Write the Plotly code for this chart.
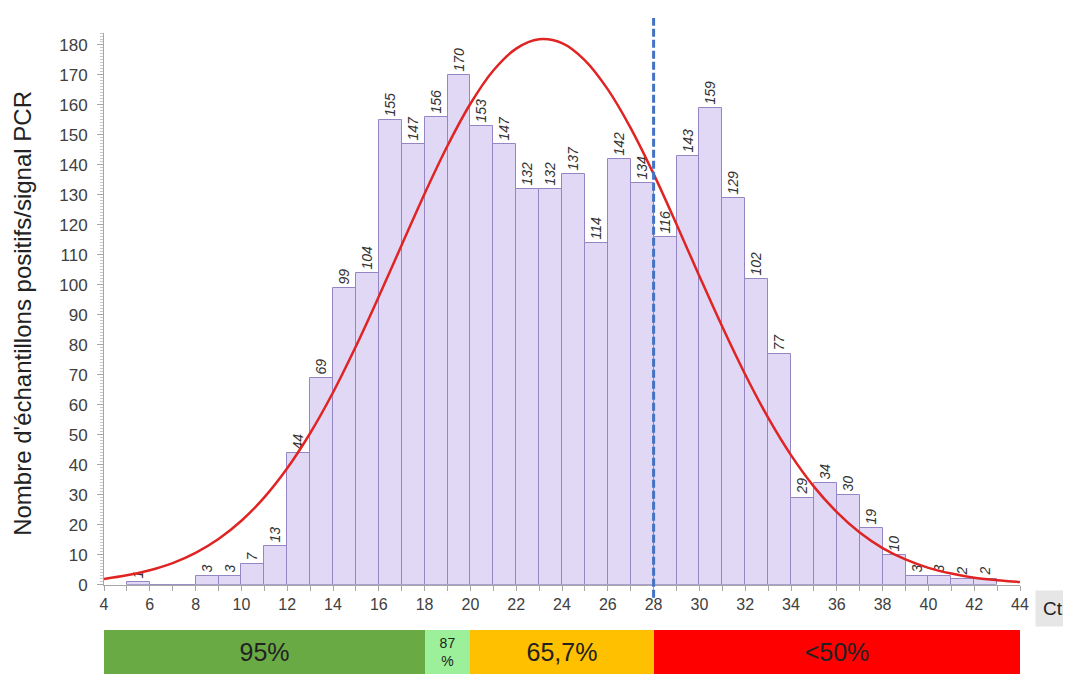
import plotly.graph_objects as go

# ---------------- data ----------------
ct_bin_start = [5, 6, 7, 8, 9, 10, 11, 12, 13, 14, 15, 16, 17, 18, 19, 20, 21, 22, 23,
                24, 25, 26, 27, 28, 29, 30, 31, 32, 33, 34, 35, 36, 37, 38, 39, 40, 41, 42]
counts = [1, 0, 0, 3, 3, 7, 13, 44, 69, 99, 104, 155, 147, 156, 170, 153, 147, 132, 132,
          137, 114, 142, 134, 116, 143, 159, 129, 102, 77, 29, 34, 30, 19, 10, 3, 3, 2, 2]

# fitted curve at each Ct
curve_ct = [4, 5, 6, 7, 8, 9, 10, 11, 12, 13, 14, 15, 16, 17, 18, 19, 20, 21, 22, 23, 24,
            25, 26, 27, 28, 29, 30, 31, 32, 33, 34, 35, 36, 37, 38, 39, 40, 41, 42, 43, 44]
curve_val = [1.9, 3.1, 4.8, 7.2, 10.6, 15.2, 21.3, 29.1, 38.8, 50.5, 64.1, 79.5, 96.1, 113.3,
             130.4, 146.4, 160.4, 171.5, 178.8, 181.9, 180.6, 174.9, 165.2, 152.3, 137.0,
             120.2, 102.9, 86.0, 70.1, 55.7, 43.2, 32.7, 24.2, 17.4, 12.2, 8.4, 5.6, 3.7,
             2.3, 1.5, 0.9]

threshold_ct = 28

band_start = [4, 18, 20, 28]
band_end = [18, 20, 28, 44]
band_labels = ["95%", "87<br>%", "65,7%", "<50%"]

x_ticks = [4, 6, 8, 10, 12, 14, 16, 18, 20, 22, 24, 26, 28, 30, 32, 34, 36, 38, 40, 42, 44]

# ---------------- styles ----------------
FONT = "Liberation Sans"
AXIS_COL = "#A6A6A6"
band_colors = ["#6AAA45", "#9CF09A", "#FFC000", "#FF0000"]
band_font_sizes = [25, 14, 25, 25]

fig = go.Figure()

fig.add_trace(go.Bar(
    x=[s + 0.5 for s in ct_bin_start],
    y=counts,
    width=1,
    marker=dict(color="#E0D8F4", line=dict(color="#9486C2", width=1)),
    text=[str(v) if v else "" for v in counts],
    textposition="outside",
    textangle=-90,
    constraintext="none",
    cliponaxis=False,
    textfont=dict(family=FONT, size=14, color="#333333", style="italic"),
    xaxis="x", yaxis="y",
    showlegend=False,
    hoverinfo="skip",
))

fig.add_trace(go.Scatter(
    x=curve_ct, y=curve_val,
    mode="lines",
    line=dict(color="#E02424", width=2.5, shape="spline"),
    xaxis="x", yaxis="y",
    showlegend=False,
    cliponaxis=False,
))

fig.add_trace(go.Bar(
    y=[0] * len(band_start),
    x=[e - s for s, e in zip(band_start, band_end)],
    base=band_start,
    orientation="h",
    width=1,
    marker=dict(color=band_colors, line=dict(width=0)),
    text=band_labels,
    textposition="inside",
    insidetextanchor="middle",
    textangle=0,
    constraintext="none",
    textfont=dict(family=FONT, size=band_font_sizes, color="#222222"),
    xaxis="x2", yaxis="y2",
    showlegend=False,
    hoverinfo="skip",
))

# page offset (body margin) and vertical photo scale, measured from earlier renders
OFF = 8
VS = 0.986


def fy(page_y):
    return page_y / VS - OFF


W = 1071 - OFF
H = 676
L = 104 - OFF
T = fy(33)
y_bottom = fy(585)
dom_h = y_bottom - T
plot_h = H - T
main_bottom = (H - y_bottom) / plot_h
band_top = (H - fy(630)) / plot_h


def ydom(page_y):
    return (y_bottom - fy(page_y)) / dom_h


fig.update_layout(
    width=W, height=H,
    margin=dict(l=L, r=51, t=T, b=0),
    paper_bgcolor="white", plot_bgcolor="white",
    bargap=0,
    font=dict(family=FONT, color="#404040"),
    xaxis=dict(
        range=[4, 44], domain=[0, 1], anchor="y",
        tickmode="array", tickvals=x_ticks,
        ticks="outside", ticklen=5, tickcolor=AXIS_COL,
        minor=dict(dtick=1, tick0=4, ticks="outside", ticklen=5, tickcolor=AXIS_COL),
        showline=True, linecolor=AXIS_COL, linewidth=1,
        showgrid=False, zeroline=False,
        tickfont=dict(size=16, color="#404040"),
    ),
    yaxis=dict(
        range=[0, 184], domain=[main_bottom, 1], anchor="x",
        dtick=10, tick0=0,
        ticks="outside", ticklen=6, tickcolor=AXIS_COL,
        minor=dict(dtick=1, ticks="outside", ticklen=3, tickcolor="#C8C8C8"),
        showline=True, linecolor=AXIS_COL, linewidth=1,
        showgrid=False, zeroline=False,
        ticklabelstandoff=6,
        tickfont=dict(size=17, color="#404040"),
    ),
    xaxis2=dict(range=[4, 44], domain=[0, 1], anchor="y2", visible=False),
    yaxis2=dict(range=[-0.5, 0.5], domain=[0, band_top], anchor="x2", visible=False),
    shapes=[dict(
        type="line", xref="x", yref="y domain",
        x0=threshold_ct, x1=threshold_ct, y0=ydom(598), y1=ydom(18),
        line=dict(color="#4472C4", width=3, dash="8px,3px"),
    )],
    annotations=[
        dict(text="Nombre d'échantillons positifs/signal PCR",
             xref="paper", yref="y domain", x=(23 - 104) / 916, y=ydom(314),
             xanchor="center", yanchor="middle", textangle=-90, showarrow=False,
             font=dict(size=24, color="#222222", family=FONT)),
        dict(text="Ct", xref="paper", yref="y domain",
             x=(1053 - 104) / 916, y=ydom(609),
             xanchor="center", yanchor="middle", showarrow=False,
             bgcolor="#E6E6E6", borderpad=7,
             font=dict(size=19, color="#222222", family=FONT)),
    ],
)

fig.write_html("out.html")
